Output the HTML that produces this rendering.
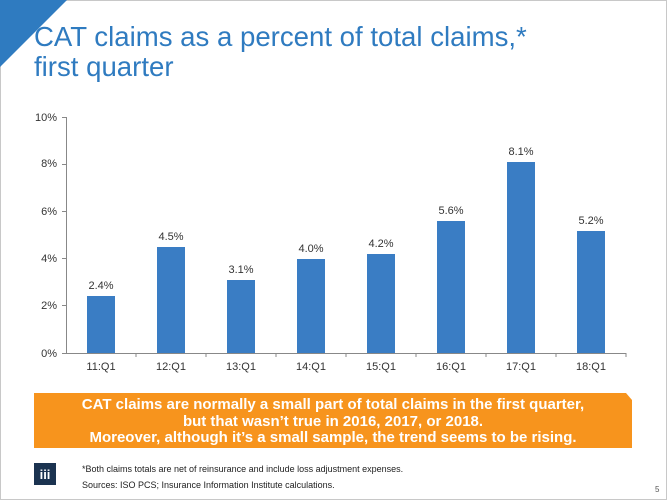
<!DOCTYPE html>
<html><head><style>
body{margin:0;width:667px;height:500px;overflow:hidden;background:#fff;font-family:"Liberation Sans",Arial,sans-serif;}
.frame{position:absolute;left:0;top:0;width:665px;height:498px;border:1px solid #c8c8c8;}
.title{position:absolute;left:34px;top:22px;font-size:27.6px;line-height:30px;color:#2f7bc0;}
.ob{position:absolute;left:34px;top:393px;width:598px;height:55px;background:#f7941d;clip-path:polygon(0 0,592px 0,598px 7px,598px 55px,0 55px);color:#fff;font-weight:bold;font-size:15px;line-height:16.5px;text-align:center;padding-top:4px;box-sizing:border-box;}
.foot{position:absolute;left:82px;font-size:9px;color:#222;}
</style></head><body>
<div class="frame"></div>
<svg width="667" height="500" style="position:absolute;left:0;top:0">
<polygon points="0,0 67,0 0,67" fill="#2f7bc0"/>
<g font-family="Liberation Sans,Arial,sans-serif" font-size="11" fill="#333">
<g text-anchor="end">
<text x="57" y="357">0%</text><text x="57" y="309">2%</text><text x="57" y="262">4%</text><text x="57" y="215">6%</text><text x="57" y="167">8%</text><text x="57" y="121">10%</text>
</g>
<g stroke="#888" stroke-width="1">
<line x1="66.5" y1="117" x2="66.5" y2="353"/>
<line x1="62" y1="353.5" x2="626" y2="353.5"/>
<line x1="62" y1="117.5" x2="66" y2="117.5"/><line x1="62" y1="164.5" x2="66" y2="164.5"/><line x1="62" y1="211.5" x2="66" y2="211.5"/><line x1="62" y1="258.5" x2="66" y2="258.5"/><line x1="62" y1="305.5" x2="66" y2="305.5"/>
<line x1="136" y1="353" x2="136" y2="357"/><line x1="206" y1="353" x2="206" y2="357"/><line x1="276" y1="353" x2="276" y2="357"/><line x1="346" y1="353" x2="346" y2="357"/><line x1="416" y1="353" x2="416" y2="357"/><line x1="486" y1="353" x2="486" y2="357"/><line x1="556" y1="353" x2="556" y2="357"/><line x1="626" y1="353" x2="626" y2="357"/>
</g>
<g fill="#3a7dc4">
<rect x="87" y="296" width="28" height="57"/>
<rect x="157" y="247" width="28" height="106"/>
<rect x="227" y="280" width="28" height="73"/>
<rect x="297" y="259" width="28" height="94"/>
<rect x="367" y="254" width="28" height="99"/>
<rect x="437" y="221" width="28" height="132"/>
<rect x="507" y="162" width="28" height="191"/>
<rect x="577" y="231" width="28" height="122"/>
</g>
<g text-anchor="middle">
<text x="101" y="289">2.4%</text><text x="171" y="240">4.5%</text><text x="241" y="273">3.1%</text><text x="311" y="252">4.0%</text><text x="381" y="247">4.2%</text><text x="451" y="214">5.6%</text><text x="521" y="155">8.1%</text><text x="591" y="224">5.2%</text>
<text x="101" y="370">11:Q1</text><text x="171" y="370">12:Q1</text><text x="241" y="370">13:Q1</text><text x="311" y="370">14:Q1</text><text x="381" y="370">15:Q1</text><text x="451" y="370">16:Q1</text><text x="521" y="370">17:Q1</text><text x="591" y="370">18:Q1</text>
</g>
</g>
<rect x="34" y="463" width="22" height="22" fill="#1b3350"/>
<text x="45" y="479" text-anchor="middle" font-family="Liberation Sans,Arial,sans-serif" font-size="13" font-weight="bold" fill="#fff">iii</text>
<text x="655" y="492" font-family="Liberation Sans,Arial,sans-serif" font-size="8" fill="#555">5</text>
</svg>
<div class="title">CAT claims as a percent of total claims,*<br>first quarter</div>
<div class="ob">CAT claims are normally a small part of total claims in the first quarter,<br>but that wasn’t true in 2016, 2017, or 2018.<br>Moreover, although it’s a small sample, the trend seems to be rising.</div>
<div class="foot" style="top:464px">*Both claims totals are net of reinsurance and include loss adjustment expenses.</div>
<div class="foot" style="top:480px">Sources: ISO PCS; Insurance Information Institute calculations.</div>
</body></html>
